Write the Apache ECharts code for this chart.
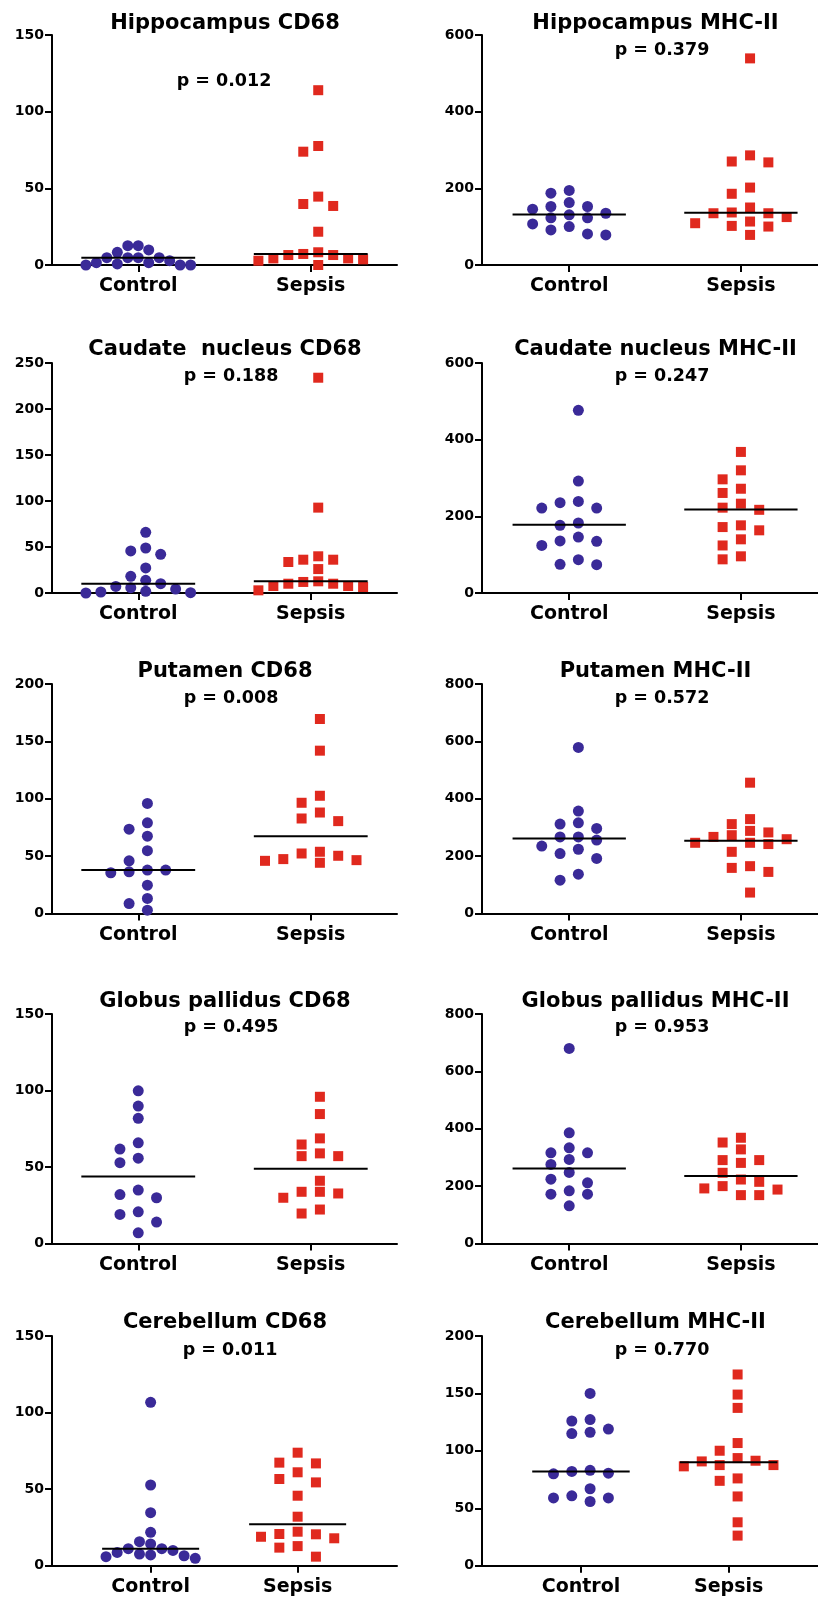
<!DOCTYPE html>
<html><head><meta charset="utf-8">
<script src="https://cdn.jsdelivr.net/npm/echarts@6/dist/echarts.min.js"></script>
<style>html,body{margin:0;padding:0;background:#fff}#c{width:818px;height:1605px}</style>
</head><body><div id="c"></div>
<script>
// ---------- data ----------
const groups = ['Control', 'Sepsis'];
const panelTitles = ['Hippocampus CD68', 'Hippocampus MHC-II', 'Caudate  nucleus CD68', 'Caudate nucleus MHC-II',
  'Putamen CD68', 'Putamen MHC-II', 'Globus pallidus CD68', 'Globus pallidus MHC-II', 'Cerebellum CD68', 'Cerebellum MHC-II'];
const pValues = ['p = 0.012', 'p = 0.379', 'p = 0.188', 'p = 0.247', 'p = 0.008', 'p = 0.572', 'p = 0.495', 'p = 0.953', 'p = 0.011', 'p = 0.770'];
const yMax = [150, 600, 250, 600, 200, 800, 150, 800, 150, 200];
const yStep = [50, 200, 50, 200, 50, 200, 50, 200, 50, 50];

const hipCd68Control = [8.3, 0.7, 4.8, 4.8, 4.8, 12.6, 0, 4.8, 0, 12.6, 1.5, 0, 1.5, 9.8, 2.8];
const hipCd68Sepsis = [6.5, 2.8, 6.5, 77.6, 39.8, 3.7, 114, 73.9, 38.5, 21.7, 4.3, 44.6, 7.2, 0, 4.3, 8.3];
const hipCd68Medians = [4.8, 7.2];

const hipMhcControl = [145.6, 81.1, 163, 135, 107, 187.5, 152.6, 123, 91.6, 194.5, 130.8, 100.3, 152.6, 123, 78.5];
const hipMhcSepsis = [150, 125, 286, 137, 109, 78.5, 539, 267.7, 185.8, 113.4, 270, 202, 135, 100.3, 135, 102];
const hipMhcMedians = [131.7, 136];

const caudCd68Control = [1.1, 10.1, 45.7, 27.2, 4.3, 42, 18.1, 7.2, 65.9, 48.9, 13.8, 0.4, 5.8, 0, 1.8];
const caudCd68Sepsis = [234, 92.8, 36.2, 39.9, 26, 36.2, 33.7, 7.6, 12.7, 10.1, 12, 2.9, 10.1, 6.5, 7.6];
const caudCd68Medians = [10.1, 12.7];

const caudMhcControl = [239, 124, 74, 476.5, 221.7, 176.5, 135.7, 292, 235.7, 182.6, 146, 74.8, 221.7, 134.8, 87];
const caudMhcSepsis = [296.5, 261, 233, 163.5, 87.8, 368, 217, 176.5, 124, 320, 272, 222.6, 172, 140, 95.7];
const caudMhcMedians = [178, 218];

const putCd68Control = [45.9, 35.5, 95.9, 73.5, 54.7, 37.8, 24.7, 13.1, 2.9, 79, 67.4, 37.8, 8.7, 36.3];
const putCd68Sepsis = [45.9, 53.8, 141.9, 102.6, 88, 80.5, 46.5, 169.5, 96.5, 82.8, 50.3, 52.3, 44.2, 47.4];
const putCd68Medians = [38, 67.4];

const putMhcControl = [267, 224, 579, 316, 235, 192, 116, 357, 296.5, 256, 209, 137, 311.6, 267];
const putMhcSepsis = [273, 311.6, 246.5, 145, 456, 259, 215, 73, 329, 282.6, 242, 159, 288, 246.5, 165, 267];
const putMhcMedians = [261.6, 253.5];

const gpCd68Control = [65.8, 55.8, 32, 20.7, 99.8, 89.8, 81.8, 52.8, 29.9, 14, 7, 61.7, 34.9, 19];
const gpCd68Sepsis = [58.9, 41, 32.7, 84.6, 29.9, 19.6, 95.9, 68.7, 57.1, 33.8, 22.2, 64.7, 57.1, 33.8];
const gpCd68Medians = [43.8, 48.8];

const gpMhcControl = [333.7, 293, 224.4, 183.7, 680, 386, 316, 247.7, 172, 131.4, 316, 275.6, 211.6, 172];
const gpMhcSepsis = [168.6, 328, 281, 200, 368.6, 290.7, 223, 188, 352, 290.7, 246.5, 192, 215, 168.6];
const gpMhcMedians = [261.6, 235];

const cbCd68Control = [11.1, 15.7, 6.5, 21.8, 10, 7, 106.7, 52.7, 34.6, 8.7, 14.2, 4.8, 7.6, 5.9, 11.1];
const cbCd68Sepsis = [17.9, 73.8, 67.3, 61, 22.2, 54.4, 45.7, 32, 20.5, 12.8, 5.9, 66.8, 56.6, 20.7, 11.8, 18.9];
const cbCd68Medians = [11.1, 27];

const cbMhcControl = [127.2, 83, 67, 55.9, 126, 116.2, 80, 60.8, 150, 119, 80.6, 59, 115, 82.1, 59];
const cbMhcSepsis = [90.8, 86.5, 149, 100.1, 87.6, 76, 60.3, 37.8, 26.2, 166.5, 137.4, 106.8, 87.6, 73.9, 93.7, 91.4];
const cbMhcMedians = [82.1, 90];

const panelData = [
  [hipCd68Control, hipCd68Sepsis, hipCd68Medians], [hipMhcControl, hipMhcSepsis, hipMhcMedians],
  [caudCd68Control, caudCd68Sepsis, caudCd68Medians], [caudMhcControl, caudMhcSepsis, caudMhcMedians],
  [putCd68Control, putCd68Sepsis, putCd68Medians], [putMhcControl, putMhcSepsis, putMhcMedians],
  [gpCd68Control, gpCd68Sepsis, gpCd68Medians], [gpMhcControl, gpMhcSepsis, gpMhcMedians],
  [cbCd68Control, cbCd68Sepsis, cbCd68Medians], [cbMhcControl, cbMhcSepsis, cbMhcMedians]
];

// ---------- layout ----------
const FONT = 'DejaVu Sans';
const PURPLE = '#3A2A98';
const RED = '#E0291E';
const rowTop = [35, 363, 684, 1014, 1336];
const rowH = [230, 230, 229.5, 229.5, 229.7];
const titleY = [24, 350, 672, 1002, 1323];
const pY = [[81, 50], [376.5, 376.5], [698.5, 698.5], [1027.5, 1027.5], [1350, 1350]];
const colLeft = [52, 482];
const colWidth = [345, 336];
const titleX = [225, 655.5];
const pX = [[224, 662], [231, 662], [231, 662], [231, 662], [230, 662]];
function xRange(row, col) {
  if (row < 4) return col === 0 ? [-0.5, 1.5] : [-0.508, 1.449];
  return col === 0 ? [-0.671, 1.676] : [-0.670, 1.605];
}
const HALF_LINE = 0.33;
const CAP_UNITS = 0.607;
const COL_PX = 18.3;
const DIAM = 11;

function swarm(values, center, pxY, pxX) {
  const order = values.map((v, i) => i).sort((a, b) => values[b] - values[a]);
  const prefs = [0];
  for (let k = 1; k < 30; k++) prefs.push(-k, k);
  const cols = {};
  const colOf = [];
  for (const i of order) {
    const y = values[i] * pxY;
    for (const c of prefs) {
      const list = cols[c] || [];
      if (list.every(yy => Math.abs(yy - y) >= DIAM)) {
        list.push(y); cols[c] = list; colOf[i] = c; break;
      }
    }
  }
  const used = Object.keys(cols).map(Number);
  const minC = Math.min(...used), maxC = Math.max(...used);
  let sp = COL_PX / pxX;
  if (maxC > minC && (maxC - minC) * sp > CAP_UNITS) sp = CAP_UNITS / (maxC - minC);
  const mid = (minC + maxC) / 2;
  return values.map((v, i) => [center + (colOf[i] - mid) * sp, v]);
}

const grid = [], xAxis = [], yAxis = [], series = [], graphic = [];
for (let p = 0; p < 10; p++) {
  const row = Math.floor(p / 2), col = p % 2;
  const [xmin, xmax] = xRange(row, col);
  grid.push({ left: colLeft[col], top: rowTop[row], width: colWidth[col], height: rowH[row], containLabel: false });
  xAxis.push({
    type: 'value', gridIndex: p, min: xmin, max: xmax,
    axisLine: { show: true, onZero: false, lineStyle: { color: '#000', width: 2 } },
    axisTick: { show: true, customValues: [0, 1], length: 7, inside: false, lineStyle: { color: '#000', width: 2 } },
    axisLabel: { show: true, customValues: [0, 1], formatter: v => groups[Math.round(v)], margin: 12,
      color: '#000', fontFamily: FONT, fontWeight: 'bold', fontSize: 19 },
    splitLine: { show: false }
  });
  yAxis.push({
    type: 'value', gridIndex: p, min: 0, max: yMax[p], interval: yStep[p],
    axisLine: { show: true, onZero: false, lineStyle: { color: '#000', width: 2 } },
    axisTick: { show: true, length: 7, inside: false, lineStyle: { color: '#000', width: 2 } },
    axisLabel: { show: true, margin: 8, color: '#000', fontFamily: FONT, fontWeight: 'bold', fontSize: 14 },
    splitLine: { show: false }
  });
  const pxX = colWidth[col] / (xmax - xmin);
  const pxY = rowH[row] / yMax[p];
  const [ctrl, seps, med] = panelData[p];
  series.push({
    type: 'scatter', xAxisIndex: p, yAxisIndex: p, data: swarm(ctrl, 0, pxY, pxX),
    symbol: 'circle', symbolSize: 11, itemStyle: { color: PURPLE, opacity: 1 }, clip: false, z: 2, silent: true
  });
  series.push({
    type: 'scatter', xAxisIndex: p, yAxisIndex: p, data: swarm(seps, 1, pxY, pxX),
    symbol: 'rect', symbolSize: 10, itemStyle: { color: RED, opacity: 1 }, clip: false, z: 2, silent: true
  });
  [0, 1].forEach(g => {
    series.push({
      type: 'line', xAxisIndex: p, yAxisIndex: p, symbol: 'none', silent: true, z: 3,
      data: [[g - HALF_LINE, med[g]], [g + HALF_LINE, med[g]]],
      lineStyle: { color: '#000', width: 2 }
    });
  });
  graphic.push({
    type: 'text', x: titleX[col], y: titleY[row],
    style: { text: panelTitles[p], fill: '#000', font: 'bold 21px "' + FONT + '"', textAlign: 'center', textVerticalAlign: 'middle' }
  });
  graphic.push({
    type: 'text', x: pX[row][col], y: pY[row][col],
    style: { text: pValues[p], fill: '#000', font: 'bold 17.5px "' + FONT + '"', textAlign: 'center', textVerticalAlign: 'middle' }
  });
}

const chart = echarts.init(document.getElementById('c'), null, { renderer: 'canvas' });
chart.setOption({ animation: false, backgroundColor: '#fff', grid, xAxis, yAxis, series, graphic });
</script>
</body></html>
